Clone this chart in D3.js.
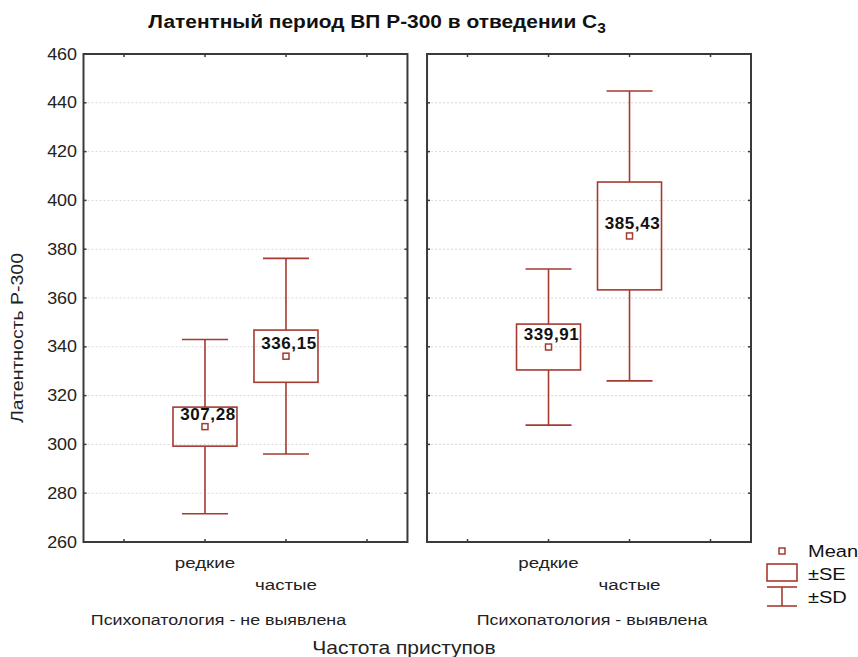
<!DOCTYPE html>
<html><head><meta charset="utf-8">
<script src="https://cdn.jsdelivr.net/npm/d3@7"></script>
<style>
body{margin:0;background:#fff;}
svg{display:block;font-family:"Liberation Sans",Arial,sans-serif;}
</style></head>
<body><svg id="c" width="858" height="657"></svg>
<script>
// ---- data ----
const groups = ["Психопатология - не выявлена", "Психопатология - выявлена"];
const categories = ["редкие", "частые"];
const means = [[307.28, 336.15], [339.91, 385.43]];
const se = [[8.0, 10.7], [9.4, 22.1]];
const sd = [[35.7, 40.1], [32.0, 59.4]];
const yTicks = [260, 280, 300, 320, 340, 360, 380, 400, 420, 440, 460];
const legendLabels = ["Mean", "±SE", "±SD"];
const titleText = "Латентный период ВП Р-300 в отведении C";
const titleSub = "3";
const yTitle = "Латентность Р-300";
const xTitle = "Частота приступов";

const red = "#a53a30", frame = "#3a3a3a";
const svg = d3.select("#c");

const y = d3.scaleLinear().domain([260, 460]).range([542, 54]);
const panelX = d3.scaleBand().domain(groups).range([83.5, 751]).paddingInner(0.057);
const fmt = v => d3.format(".2f")(v).replace(".", ",");

// text helper with horizontal stretch
function txt(sel, x, y, sx, rot) {
  return sel.append("text").attr("transform", `translate(${x},${y})${rot ? " rotate(" + rot + ")" : ""} scale(${sx},1)`);
}

// title
const t = txt(svg, 377, 28, 1.1).attr("text-anchor", "middle")
  .attr("font-size", 19).attr("font-weight", "bold").attr("fill", "#111").text(titleText);
t.append("tspan").attr("font-size", 14).attr("dy", 5).text(titleSub);

// y-axis labels
yTicks.forEach(d => {
  txt(svg, 77, y(d) + 5.5, 1.12).attr("text-anchor", "end")
    .attr("font-size", 16).attr("fill", "#222").text(d);
});

txt(svg, 23, 338, 1.18, -90).attr("text-anchor", "middle").attr("font-size", 16.5).attr("fill", "#222").text(yTitle);

groups.forEach((g, gi) => {
  const x0 = panelX(g), w = panelX.bandwidth();
  const xt = d3.scaleLinear().domain([0, 8]).range([x0, x0 + w]);
  const p = svg.append("g");
  // gridlines
  p.selectAll("line.grid").data(yTicks.slice(1, -1)).join("line")
    .attr("x1", x0).attr("x2", x0 + w).attr("y1", d => y(d)).attr("y2", d => y(d))
    .attr("stroke", "#d8d8d8").attr("stroke-width", 1).attr("stroke-dasharray", "2,2");
  // y ticks on both sides
  yTicks.slice(1, -1).forEach(d => {
    p.append("line").attr("x1", x0).attr("x2", x0 + 3).attr("y1", y(d)).attr("y2", y(d)).attr("stroke", frame).attr("stroke-width", 1.5);
    p.append("line").attr("x1", x0 + w - 3).attr("x2", x0 + w).attr("y1", y(d)).attr("y2", y(d)).attr("stroke", frame).attr("stroke-width", 1.5);
  });
  [1, 3, 5, 7].forEach(k => {
    p.append("line").attr("x1", xt(k)).attr("x2", xt(k)).attr("y1", y(460)).attr("y2", y(460) + 3).attr("stroke", frame).attr("stroke-width", 1.5);
    p.append("line").attr("x1", xt(k)).attr("x2", xt(k)).attr("y1", y(260)).attr("y2", y(260) - 3).attr("stroke", frame).attr("stroke-width", 1.5);
  });
  // frame
  p.append("rect").attr("x", x0).attr("y", y(460)).attr("width", w).attr("height", y(260) - y(460))
    .attr("fill", "none").attr("stroke", frame).attr("stroke-width", 2);

  categories.forEach((c, ci) => {
    const cx = xt(ci === 0 ? 3 : 5);
    const m = means[gi][ci], s = se[gi][ci], d = sd[gi][ci];
    const bw = 64, cw = 46;
    p.append("line").attr("x1", cx).attr("x2", cx).attr("y1", y(m + d)).attr("y2", y(m + s)).attr("stroke", red).attr("stroke-width", 1.6);
    p.append("line").attr("x1", cx).attr("x2", cx).attr("y1", y(m - s)).attr("y2", y(m - d)).attr("stroke", red).attr("stroke-width", 1.6);
    p.append("line").attr("x1", cx - cw/2).attr("x2", cx + cw/2).attr("y1", y(m + d)).attr("y2", y(m + d)).attr("stroke", red).attr("stroke-width", 1.6);
    p.append("line").attr("x1", cx - cw/2).attr("x2", cx + cw/2).attr("y1", y(m - d)).attr("y2", y(m - d)).attr("stroke", red).attr("stroke-width", 1.6);
    p.append("rect").attr("x", cx - bw/2).attr("y", y(m + s)).attr("width", bw).attr("height", y(m - s) - y(m + s))
      .attr("fill", "none").attr("stroke", red).attr("stroke-width", 1.6);
    p.append("rect").attr("x", cx - 3).attr("y", y(m) - 3).attr("width", 6).attr("height", 6)
      .attr("fill", "#fff").attr("stroke", red).attr("stroke-width", 1.5);
    p.append("text").attr("x", cx + 3).attr("y", y(m) - 7).attr("text-anchor", "middle")
      .attr("font-size", 17).attr("font-weight", "bold").attr("letter-spacing", 0.6).attr("fill", "#111").text(fmt(m));
    txt(p, cx, ci === 0 ? 568 : 590, 1.25).attr("text-anchor", "middle")
      .attr("font-size", 15).attr("fill", "#222").text(c);
  });
  txt(svg, x0 + w/2 + (gi === 0 ? -27 : 3), 625, 1.19).attr("text-anchor", "middle")
    .attr("font-size", 15).attr("fill", "#222").text(g);
});

txt(svg, 404, 654, 1.2).attr("text-anchor", "middle")
  .attr("font-size", 17.5).attr("fill", "#222").text(xTitle);

// legend
const lg = svg.append("g");
const lx = 782;
lg.append("rect").attr("x", lx - 3).attr("y", 548).attr("width", 6).attr("height", 6).attr("fill", "#fff").attr("stroke", red).attr("stroke-width", 1.5);
lg.append("rect").attr("x", 767).attr("y", 564).attr("width", 30).attr("height", 17).attr("fill", "none").attr("stroke", red).attr("stroke-width", 1.6);
lg.append("line").attr("x1", 767).attr("x2", 797).attr("y1", 587).attr("y2", 587).attr("stroke", red).attr("stroke-width", 1.6);
lg.append("line").attr("x1", 767).attr("x2", 797).attr("y1", 606).attr("y2", 606).attr("stroke", red).attr("stroke-width", 1.6);
lg.append("line").attr("x1", lx).attr("x2", lx).attr("y1", 587).attr("y2", 606).attr("stroke", red).attr("stroke-width", 1.6);
legendLabels.forEach((d, i) => {
  txt(lg, 808, [557, 580, 603][i], 1.18).attr("font-size", 17).attr("fill", "#111").text(d);
});
</script></body></html>
